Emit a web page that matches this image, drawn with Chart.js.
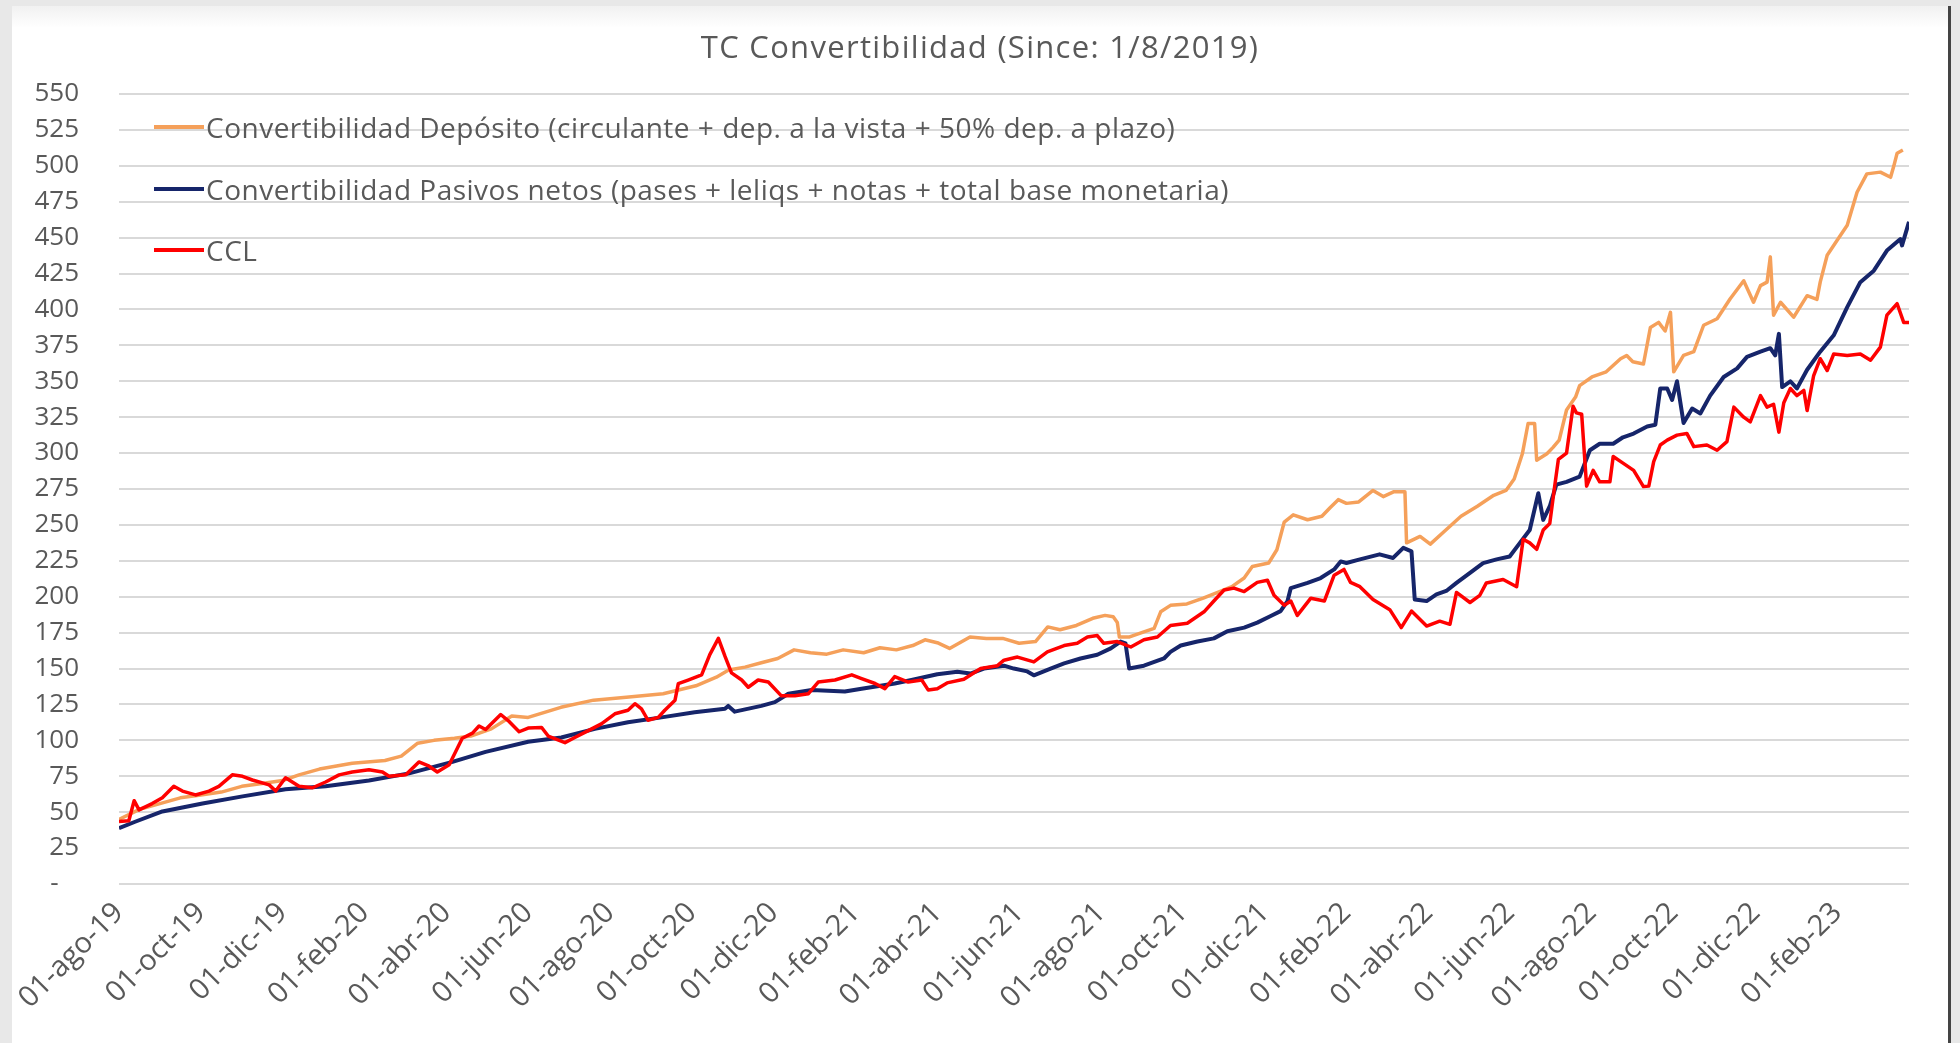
<!DOCTYPE html>
<html lang="es">
<head>
  <meta charset="UTF-8">
  <title>TC Convertibilidad</title>
  <script src="https://cdn.jsdelivr.net/npm/chart.js"></script>
  <style>
    body {
      margin: 0;
      background: #e8e8e8;
      font-family: "Open Sans", Lato, sans-serif;
      overflow: hidden;
    }
    .panel {
      position: absolute;
      left: 12px;
      top: 6px;
      width: 1936px;
      height: 1037px;
      background: linear-gradient(#f1f1f1, #ffffff 22px);
      border-right: 3px solid #444;
    }
    #tcChart {
      position: absolute;
      left: 0;
      top: 0;
    }
    .titulo {
      position: absolute;
      left: 0;
      top: 27px;
      width: 1960px;
      text-align: center;
      font-size: 31px;
      line-height: 38px;
      letter-spacing: 1.3px;
      color: #595959;
    }
    .leyenda div {
      position: absolute;
      left: 154px;
      height: 34px;
      display: flex;
      align-items: center;
      font-size: 28px;
      letter-spacing: 0.5px;
      color: #595959;
      white-space: nowrap;
    }
    .leyenda span {
      display: inline-block;
      width: 50px;
      height: 4px;
      margin-right: 2px;
    }
  </style>
</head>
<body>
  <div class="panel"></div>
  <canvas id="tcChart" width="1960" height="1043"></canvas>
  <div class="titulo">TC Convertibilidad (Since: 1/8/2019)</div>
  <div class="leyenda">
    <div style="top:110px"><span style="background:#f5a05a"></span>Convertibilidad Depósito (circulante + dep. a la vista + 50% dep. a plazo)</div>
    <div style="top:172px"><span style="background:#16256a"></span>Convertibilidad Pasivos netos (pases + leliqs + notas + total base monetaria)</div>
    <div style="top:233px"><span style="background:#ff0000"></span>CCL</div>
  </div>

  <script>
    // x = months since 01-ago-19, y = value
    const xTickLabels = ['01-ago-19', '01-oct-19', '01-dic-19', '01-feb-20', '01-abr-20', '01-jun-20',
      '01-ago-20', '01-oct-20', '01-dic-20', '01-feb-21', '01-abr-21', '01-jun-21', '01-ago-21',
      '01-oct-21', '01-dic-21', '01-feb-22', '01-abr-22', '01-jun-22', '01-ago-22', '01-oct-22',
      '01-dic-22', '01-feb-23'];

    const depositoSerie = [[0,45],[0.5,52],[1,56],[1.5,60],[2,62],[2.5,64],[3,68],[3.5,70],[4,72],[4.4,76],
      [4.9,80],[5.7,84],[6.5,86],[6.9,89],[7.3,98],[7.7,100],[8.2,101.5],[8.6,103],[9.1,108],[9.6,117],
      [10,116],[10.8,123],[11.6,128],[12.4,130],[13.3,132.5],[14.1,138],[14.6,144],[14.9,149],[15.3,151],
      [15.7,154],[16.1,157],[16.5,163],[16.9,161],[17.3,160],[17.7,163],[18.2,161],[18.6,164.5],[19,163],
      [19.4,166],[19.7,170],[20,168],[20.3,164],[20.8,172],[21.2,171],[21.6,171],[22,167.6],[22.4,168.8],
      [22.7,179],[23,177],[23.4,180],[23.8,185],[24.1,187],[24.3,186],[24.4,182],[24.45,172],[24.7,172],
      [25.05,175.6],[25.3,178],[25.46,189.5],[25.7,194],[26.1,195],[26.5,199],[26.9,203.6],[27.2,207],
      [27.5,213],[27.7,221],[28.1,223.5],[28.3,232.7],[28.48,252],[28.7,257],[29.05,253.6],[29.4,256],
      [29.6,262],[29.8,267.6],[30,265],[30.3,266],[30.65,274],[30.9,269.7],[31.15,273],[31.43,273],
      [31.47,237.5],[31.8,242],[32.05,236.6],[32.45,247],[32.8,256],[33.2,263],[33.6,270.6],[33.9,274],
      [34.1,282],[34.3,299.5],[34.44,320.6],[34.6,320.6],[34.65,295],[34.9,299.5],[35.05,304],[35.2,309],
      [35.38,330],[35.6,339],[35.7,347],[36,353],[36.35,356.6],[36.7,365.7],[36.85,368],[37,363.6],
      [37.26,362],[37.43,387.5],[37.63,391],[37.79,385],[37.92,398],[38,356.6],[38.24,368],[38.49,370.6],
      [38.73,389],[39.06,393.5],[39.38,407.5],[39.71,420],[39.95,405],[40.12,416.6],[40.28,419],[40.36,436.6],
      [40.44,396],[40.61,405],[40.93,394.6],[41.26,409.6],[41.5,407],[41.58,419],[41.75,437.7],[41.99,448],
      [42.24,458.6],[42.48,481.6],[42.72,494.4],[43.05,495.6],[43.3,492],[43.38,500],[43.46,508.8],[43.6,511]];

    const pasivosSerie = [[0,38.8],[0.41,43.5],[1.06,50.5],[2.04,56],[3.02,61],[4.07,66],[5.05,68],[6.11,72],
      [7.09,77],[8.15,85],[8.96,92],[10,99],[10.81,102],[11.63,108],[12.44,112.6],[13.26,116],[14.07,119.6],
      [14.81,122],[14.89,124],[15.05,120],[15.7,124],[16.03,126.6],[16.36,132.5],[16.93,135],[17.74,134],
      [18.15,136],[18.96,139.6],[19.37,142],[20,146],[20.49,147.7],[20.81,146.5],[21.14,150],[21.63,152],
      [21.87,150],[22.2,148],[22.36,145.3],[22.77,150],[23.1,153.6],[23.5,157],[23.91,159.6],[24.24,164],
      [24.48,168.8],[24.6,167.6],[24.69,150],[25.05,152],[25.54,157],[25.7,161.6],[25.95,166],[26.36,168.8],
      [26.76,171],[27.09,176],[27.5,178.5],[27.82,182],[28.15,186.6],[28.39,190],[28.56,197],[28.64,206],
      [29.05,209.6],[29.37,213],[29.7,219],[29.86,224.6],[30,223.5],[30.33,226],[30.81,229.5],[31.14,227],
      [31.39,234],[31.59,231.6],[31.67,198],[31.96,197],[32.2,201.6],[32.44,204],[32.69,209.6],[33.02,216.6],
      [33.34,223.4],[33.67,226],[33.99,228],[34.24,237.5],[34.48,246.5],[34.69,272],[34.81,253.5],[34.97,263],
      [35.13,278],[35.38,280],[35.7,283.6],[35.95,302],[36.19,306.5],[36.52,306.5],[36.76,311],[37.02,313.6],
      [37.35,318.5],[37.55,319.7],[37.67,345],[37.84,345],[37.96,337],[38.08,350],[38.24,321],[38.45,331],
      [38.65,327.6],[38.89,340],[39.22,353],[39.55,359],[39.79,367],[40.12,370.6],[40.36,373],[40.48,368],
      [40.57,383],[40.65,346],[40.85,350],[41.01,345],[41.26,358],[41.58,370.6],[41.91,382],[42.24,401.6],
      [42.56,419],[42.89,427],[43.21,441],[43.54,449],[43.58,444.6],[43.75,461]];

    const cclSerie = [[0,43.5],[0.24,44],[0.37,58],[0.49,51.6],[0.81,56],[1.06,60],[1.34,68],[1.55,64.7],
      [1.87,62],[2.2,64.7],[2.44,68],[2.77,76],[3.02,75],[3.26,72.4],[3.67,69],[3.83,64.7],[4.07,74],[4.4,68],
      [4.73,67],[5.05,71],[5.38,76],[5.7,78],[6.11,79.5],[6.44,78],[6.6,75],[7.01,76],[7.33,85],[7.58,82],
      [7.78,78],[8.07,83],[8.39,101.5],[8.64,105],[8.8,110],[8.96,107.6],[9.33,118],[9.54,113],[9.78,106],
      [10,108.6],[10.33,109],[10.49,103],[10.9,98.4],[11.14,102],[11.47,106.8],[11.79,111.5],[12.12,118.5],
      [12.44,121],[12.61,125.5],[12.77,122],[12.93,114],[13.18,116],[13.34,121],[13.59,128],[13.67,139.5],
      [13.91,142],[14.24,145.6],[14.44,159.7],[14.65,171],[14.81,158.6],[14.97,147],[15.22,142],[15.38,137],
      [15.62,142],[15.87,140.6],[16.19,131],[16.52,131],[16.85,132.5],[17.09,140.6],[17.5,142],[17.91,145.6],
      [18.15,143],[18.48,139.6],[18.72,136],[18.96,144.4],[19.29,140.6],[19.62,142],[19.78,135],[20,136],
      [20.24,140],[20.65,142.6],[21.06,150],[21.47,152],[21.63,155.8],[21.96,158],[22.36,154.6],[22.69,161.6],
      [23.1,166],[23.42,167.6],[23.67,172],[23.91,173],[24.07,167.6],[24.4,168.8],[24.73,165],[25.05,170],
      [25.38,172],[25.7,180],[26.11,181.5],[26.52,189.5],[26.76,197],[27.01,204.7],[27.25,206],[27.5,203.6],
      [27.82,210],[28.07,211.5],[28.23,201],[28.48,194],[28.64,197],[28.8,187],[29.13,199],[29.46,197],
      [29.7,215],[29.94,219],[30.1,210],[30.33,207],[30.65,198],[31.06,191],[31.34,178.5],[31.59,190],
      [31.96,179.6],[32.28,183],[32.53,180.8],[32.69,203],[33.02,196],[33.26,201],[33.42,209.6],[33.83,212],
      [34.16,207],[34.32,240],[34.48,237.5],[34.65,233],[34.81,246.5],[34.97,251],[35.09,277],[35.18,295.6],
      [35.38,300],[35.54,332.6],[35.62,328],[35.75,327],[35.87,277],[36.03,288],[36.19,280],[36.44,280],
      [36.52,297.6],[36.76,293],[37.02,288],[37.26,276.7],[37.39,277],[37.51,294],[37.67,305.6],[37.84,309],
      [38.08,312.5],[38.32,313.7],[38.49,304.5],[38.81,305.6],[39.06,302],[39.3,308],[39.47,332],[39.71,325],
      [39.87,321.7],[40.12,340],[40.28,332],[40.44,334],[40.57,314.6],[40.69,335],[40.85,345],[41.01,340],
      [41.18,343.6],[41.26,329.6],[41.42,354],[41.58,365.7],[41.75,357.5],[41.91,369],[42.24,368],[42.56,369],
      [42.81,364.6],[43.05,373.8],[43.21,396],[43.46,404],[43.62,391],[43.75,391]];

    const toPoints = serie => serie.map(([m, v]) => ({ x: m, y: v }));
    const textColor = '#595959';

    new Chart(document.getElementById('tcChart'), {
      type: 'line',
      data: {
        datasets: [
          { label: 'CCL', data: toPoints(cclSerie), borderColor: '#ff0000', borderWidth: 3.5, order: 0 },
          { label: 'Convertibilidad Pasivos netos (pases + leliqs + notas + total base monetaria)',
            data: toPoints(pasivosSerie), borderColor: '#16256a', borderWidth: 4, order: 1 },
          { label: 'Convertibilidad Depósito (circulante + dep. a la vista + 50% dep. a plazo)',
            data: toPoints(depositoSerie), borderColor: '#f5a05a', borderWidth: 3.5, order: 2 }
        ]
      },
      options: {
        responsive: false,
        animation: false,
        elements: {
          point: { radius: 0 },
          line: { tension: 0, borderJoinStyle: 'round', fill: false }
        },
        layout: { padding: { left: 12, right: 51, top: 94, bottom: 0 } },
        plugins: {
          legend: { display: false },
          title: { display: false },
          tooltip: { enabled: false }
        },
        scales: {
          x: {
            type: 'linear',
            min: 0,
            max: 43.75,
            grid: { display: false, drawTicks: false },
            border: { display: false },
            afterBuildTicks: scale => {
              scale.ticks = xTickLabels.map((t, i) => ({ value: i * 2 }));
            },
            ticks: {
              autoSkip: false,
              minRotation: 45,
              maxRotation: 45,
              padding: 12,
              color: textColor,
              font: { family: 'Open Sans', size: 29 },
              callback: (v, i) => xTickLabels[i]
            },
            afterFit: scale => {
              scale.height = 159;
              scale.paddingLeft = 0;
              scale.paddingRight = 0;
            }
          },
          y: {
            min: 0,
            max: 550,
            grid: { color: '#d9d9d9', lineWidth: 2, drawTicks: false },
            border: { display: false },
            ticks: {
              stepSize: 25,
              padding: 40,
              color: textColor,
              font: { family: 'Open Sans', size: 26 },
              callback: v => v === 0 ? '-   ' : v
            },
            afterFit: scale => {
              scale.width = 107;
              scale.paddingTop = 0;
              scale.paddingBottom = 0;
            }
          }
        }
      }
    });
  </script>
</body>
</html>
